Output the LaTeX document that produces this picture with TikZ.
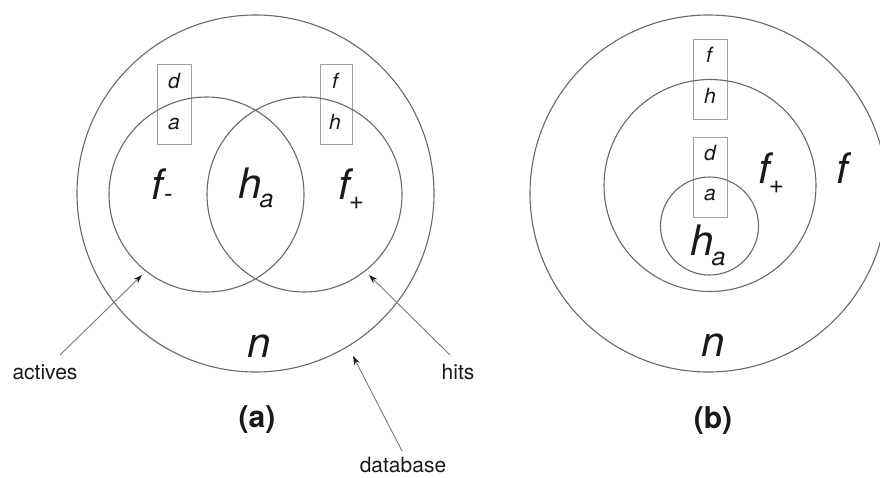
\documentclass[tikz,border=0pt]{standalone}
\usepackage{fontspec}
\setmainfont{TeX Gyre Heros}
\usetikzlibrary{arrows.meta}
\definecolor{circ}{RGB}{112,102,102}
\definecolor{boxc}{RGB}{165,158,158}
\definecolor{arrc}{RGB}{125,120,120}
\definecolor{ink}{RGB}{25,25,25}
\newcommand{\bigltr}[1]{\fontsize{42}{42}\selectfont\itshape #1}
\newcommand{\subx}[3]{\raisebox{#1}{\fontsize{#2}{#2}\selectfont\itshape #3}}
\begin{document}
\begin{tikzpicture}[x=1pt,y=-1pt,
  ring/.style={draw=circ,line width=1.1pt},
  letterbox/.style={draw=boxc,line width=0.9pt,minimum width=34pt,minimum height=80pt,inner sep=0pt},
  boxletter/.style={anchor=base,inner sep=0pt,text=ink,font=\fontsize{21}{21}\selectfont\itshape},
  bigletter/.style={anchor=base west,inner sep=0pt,text=ink},
  lbl/.style={inner sep=0pt,text=ink,font=\fontsize{21}{21}\selectfont},
  panelcap/.style={inner sep=0pt,text=ink,font=\fontsize{30}{30}\selectfont\bfseries},
  arr/.style={draw=arrc,line width=0.9pt,-{Stealth[length=9pt,width=6pt,fill=ink,color=ink]}}]
\useasboundingbox (0,0) rectangle (880,477);
\clip (0,0) rectangle (880,477);
\fill[white] (0,0) rectangle (880,477);
% ---------- panel (a) ----------
\node[letterbox] (boxL) at (174,104) {};
\node[letterbox,minimum width=32pt] (boxR) at (336,104) {};
\draw[ring] (255.5,193.5) circle[radius=178.5];
\draw[ring] (206.5,194.5) circle[radius=97.5];
\draw[ring] (304.5,194.5) circle[radius=97.5];
\node[boxletter] (ld) at (174,88) {d};
\node[boxletter] (la) at (174,129) {a};
\node[boxletter] (rf) at (335,88) {f};
\node[boxletter] (rh) at (335,129) {h};
\node[bigletter] (fminus) at (151,199) {\bigltr{f}\kern1pt\subx{-3pt}{26}{-}};
\node[bigletter] (ha) at (238,198) {\bigltr{h}\kern-2pt\subx{-9pt}{25}{a}};
\node[bigletter] (fplus) at (338,199) {\bigltr{f}\kern-1pt\subx{-10pt}{26}{+}};
\node[bigletter] (na) at (247,357) {\bigltr{n}};
\node[panelcap] (capa) at (257,420) {(a)};
\node[lbl] (actives) at (45,372) {actives};
\node[lbl] (hits) at (458,372) {hits};
\node[lbl] (database) at (403,465) {database};
\coordinate (actS) at (60,355);
\coordinate (actT) at (142,275);
\coordinate (hitS) at (450,355);
\coordinate (hitT) at (369,275);
\coordinate (dbS) at (402,451);
\coordinate (dbT) at (353,356);
\draw[arr] (actS) -- (actT);
\draw[arr] (hitS) -- (hitT);
\draw[arr] (dbS) -- (dbT);
% ---------- panel (b) ----------
\node[letterbox] (boxT) at (710,79.5) {};
\node[letterbox] (boxB) at (710,177) {};
\draw[ring] (708.5,193.5) circle[radius=178.5];
\draw[ring] (710,185.5) circle[radius=106];
\draw[ring] (709.5,226) circle[radius=49];
\node[boxletter] (tf) at (709,62) {f};
\node[boxletter] (th) at (710,103) {h};
\node[boxletter] (bd) at (710,160) {d};
\node[boxletter] (ba) at (710,200) {a};
\node[bigletter] (fplusb) at (758,183) {\bigltr{f}\kern-1pt\subx{-10pt}{26}{+}};
\node[bigletter] (fb) at (836,183) {\bigltr{f}};
\node[bigletter] (hab) at (690,255) {\bigltr{h}\kern-2pt\subx{-10pt}{25}{a}};
\node[bigletter] (nb) at (701,356) {\bigltr{n}};
\node[panelcap] (capb) at (713,421) {(b)};
\end{tikzpicture}
\end{document}
